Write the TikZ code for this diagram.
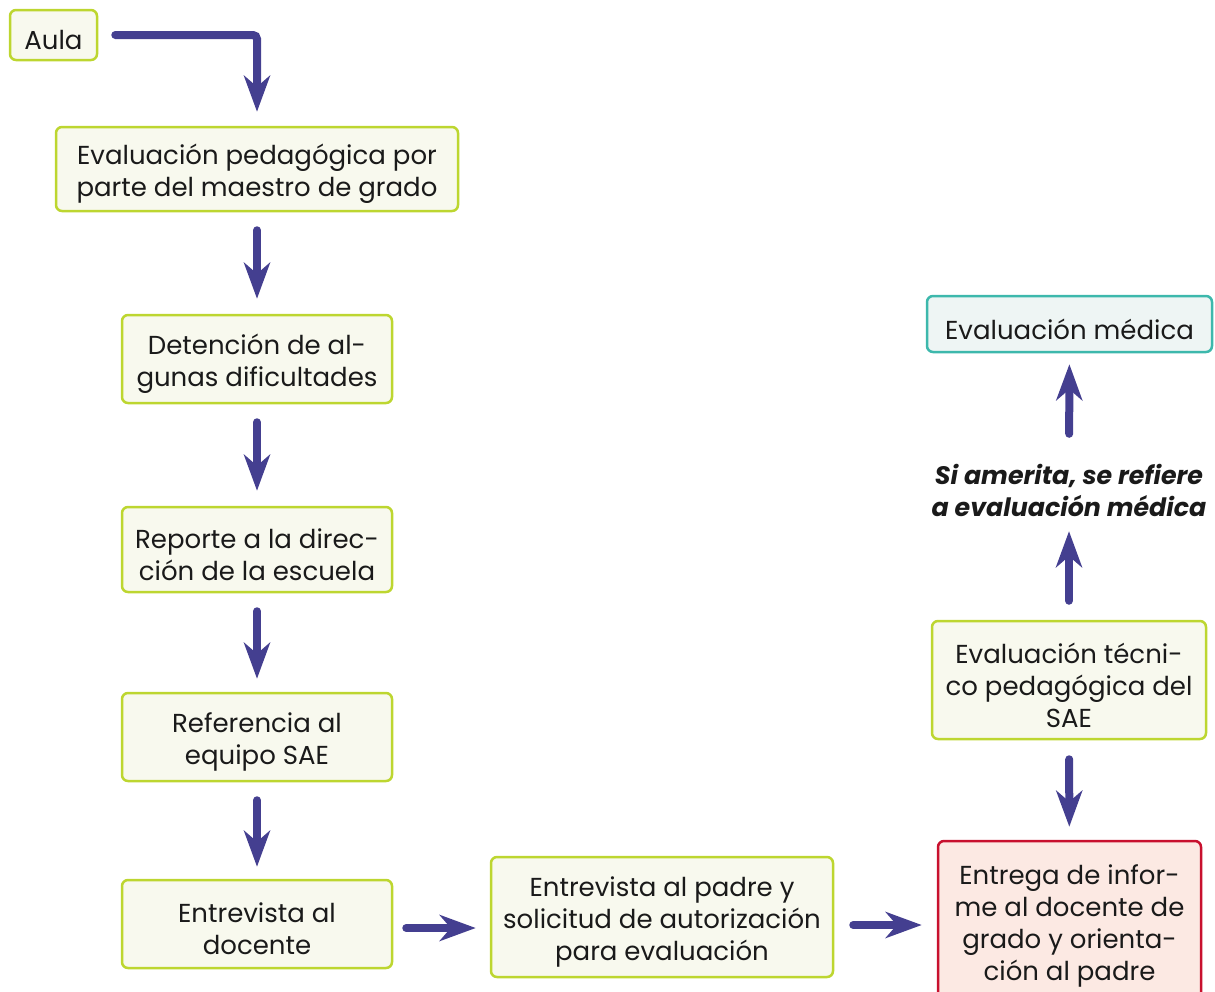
\documentclass[tikz,border=0pt]{standalone}
\usepackage{fontspec}
\setmainfont{Poppins}
\usetikzlibrary{arrows.meta}
\definecolor{lime}{HTML}{BDD630}
\definecolor{limefill}{HTML}{F8F9EE}
\definecolor{tealb}{HTML}{3DB8AC}
\definecolor{tealfill}{HTML}{EEF5F4}
\definecolor{redb}{HTML}{C8102E}
\definecolor{redfill}{HTML}{FCE9E3}
\definecolor{arrowc}{HTML}{443F90}
\definecolor{txt}{HTML}{1A1A1A}
\tikzset{
  box/.style={draw=lime, fill=limefill, line width=2.5pt, rounded corners=6pt, inner sep=0pt},
  medbox/.style={box, draw=tealb, fill=tealfill},
  redbox/.style={box, draw=redb, fill=redfill},
  lbl/.style={inner sep=0pt, align=center, text=txt, yshift=-5pt,
    font=\fontsize{26}{32}\selectfont},
  arr/.style={draw=arrowc, line width=8pt, line cap=round, rounded corners=4pt,
    -{Stealth[length=36pt, width=26pt, inset=11pt]}},
}
\begin{document}
\begin{tikzpicture}[x=1pt,y=-1pt]
\useasboundingbox (0,0) rectangle (1215,991);
\node[box, minimum width=87pt, minimum height=50pt,
  label={[lbl]center:Aula}] (aula) at (53.5,35) {};
\node[box, minimum width=402pt, minimum height=84pt,
  label={[lbl]center:{Evaluación pedagógica por\\parte del maestro de grado}}] (eval) at (257,169) {};
\node[box, minimum width=270pt, minimum height=88pt,
  label={[lbl]center:{Detención de al-\\gunas dificultades}}] (deten) at (257,359) {};
\node[box, minimum width=270pt, minimum height=85pt,
  label={[lbl]center:{Reporte a la direc-\\ción de la escuela}}] (reporte) at (257,549.5) {};
\node[box, minimum width=270pt, minimum height=88pt,
  label={[lbl]center:{Referencia al\\equipo SAE}}] (refer) at (257,737) {};
\node[box, minimum width=270pt, minimum height=88pt,
  label={[lbl]center:{Entrevista al\\docente}}] (docente) at (257,924) {};
\node[box, minimum width=342pt, minimum height=120pt,
  label={[lbl]center:{Entrevista al padre y\\solicitud de autorización\\para evaluación}}] (padre) at (662,917) {};
\node[redbox, minimum width=263pt, minimum height=160pt,
  label={[lbl]center:{Entrega de infor-\\me al docente de\\grado y orienta-\\ción al padre}}] (entrega) at (1069.5,921) {};
\node[box, minimum width=274pt, minimum height=118pt,
  label={[lbl]center:{Evaluación técni-\\co pedagógica del\\SAE}}] (tecnico) at (1069,680) {};
\node[inner sep=0pt, minimum height=60pt, align=center, text=txt,
  font=\fontsize{25.3}{32}\selectfont\bfseries\itshape] (texto) at (1069,490) {Si amerita, se refiere\\a evaluación médica};
\node[medbox, minimum width=285pt, minimum height=56pt,
  label={[lbl]center:{Evaluación médica}}] (medica) at (1069.5,324) {};

\draw[arr, shorten <=17pt, shorten >=14pt] (aula) -| (eval);
\draw[arr, shorten <=18pt, shorten >=15pt] (eval) -- (deten);
\draw[arr, shorten <=18pt, shorten >=15pt] (deten) -- (reporte);
\draw[arr, shorten <=18pt, shorten >=13pt] (reporte) -- (refer);
\draw[arr, shorten <=18pt, shorten >=12pt] (refer) -- (docente);
\draw[arr, shorten <=13pt, shorten >=14pt] ([yshift=-4pt]docente.east) -- ([yshift=-4pt]docente.east -| padre.west);
\draw[arr, shorten <=19pt, shorten >=15pt] ([yshift=-8pt]padre.east) -- ([yshift=-8pt]padre.east -| entrega.west);
\draw[arr, shorten <=19pt, shorten >=13pt] (tecnico) -- (entrega);
\draw[arr, shorten <=19pt, shorten >=11pt] (tecnico) -- (texto);
\draw[arr, shorten <=26pt, shorten >=11pt] (texto) -- (medica);
\end{tikzpicture}
\end{document}
